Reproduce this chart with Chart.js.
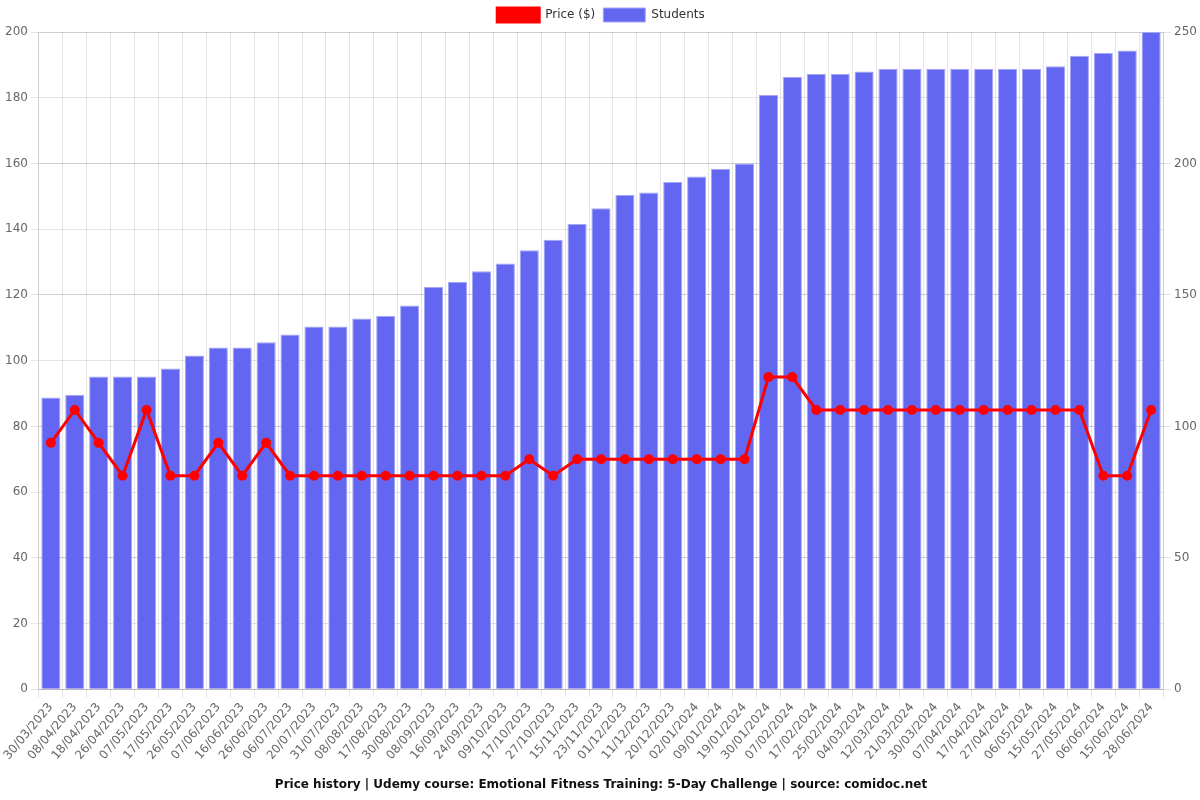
<!DOCTYPE html>
<html>
<head>
<meta charset="utf-8">
<script src="https://cdn.jsdelivr.net/npm/chart.js@4/dist/chart.umd.min.js"></script>
<style>
  html, body { margin: 0; padding: 0; background: #fff; }
  #wrap { width: 1200px; height: 800px; }
</style>
</head>
<body>
<div id="wrap"><canvas id="chart"></canvas></div>
<script>
'use strict';

const dates = [
  '30/03/2023','08/04/2023','18/04/2023','26/04/2023','07/05/2023','17/05/2023','26/05/2023',
  '07/06/2023','16/06/2023','26/06/2023','06/07/2023','20/07/2023','31/07/2023','08/08/2023',
  '17/08/2023','30/08/2023','08/09/2023','16/09/2023','24/09/2023','09/10/2023','17/10/2023',
  '27/10/2023','15/11/2023','23/11/2023','01/12/2023','11/12/2023','20/12/2023','02/01/2024',
  '09/01/2024','19/01/2024','30/01/2024','07/02/2024','17/02/2024','25/02/2024','04/03/2024',
  '12/03/2024','21/03/2024','30/03/2024','07/04/2024','17/04/2024','27/04/2024','06/05/2024',
  '15/05/2024','27/05/2024','06/06/2024','15/06/2024','28/06/2024'
];

const price = [
  75, 85, 75, 65, 85, 65, 65, 75, 65, 75,
  65, 65, 65, 65, 65, 65, 65, 65, 65, 65,
  70, 65, 70, 70, 70, 70, 70, 70, 70, 70,
  95, 95, 85, 85, 85, 85, 85, 85, 85, 85,
  85, 85, 85, 85, 65, 65, 85
];

const students = [
  111, 112, 119, 119, 119, 122, 127, 130, 130, 132,
  135, 138, 138, 141, 142, 146, 153, 155, 159, 162,
  167, 171, 177, 183, 188, 189, 193, 195, 198, 200,
  226, 233, 234, 234, 235, 236, 236, 236, 236, 236,
  236, 236, 237, 241, 242, 243, 250
];

const titleText = 'Price history | Udemy course: Emotional Fitness Training: 5-Day Challenge | source: comidoc.net';

Chart.defaults.font.family = '"DejaVu Sans", sans-serif';
Chart.defaults.font.size = 12;
Chart.defaults.color = '#666';

const tick = { color: '#666', font: { size: 12 } };
const grid = 'rgba(0,0,0,0.1)';

new Chart(document.getElementById('chart'), {
  type: 'bar',
  data: {
    labels: dates,
    datasets: [
      {
        type: 'line',
        label: 'Price ($)',
        data: price,
        yAxisID: 'y',
        borderColor: '#ff0000',
        backgroundColor: '#ff0000',
        borderWidth: 3,
        pointRadius: 3.5,
        pointBackgroundColor: '#ff0000',
        pointBorderColor: '#ff0000',
        tension: 0,
        fill: false,
      },
      {
        label: 'Students',
        data: students,
        yAxisID: 'y2',
        backgroundColor: '#6366f1',
        borderColor: '#a5a7f7',
        borderWidth: 1,
        barPercentage: 0.8,
        categoryPercentage: 1.0,
      },
    ],
  },
  options: {
    responsive: true,
    maintainAspectRatio: false,
    animation: false,
    layout: { padding: { left: 2, right: 0, top: 0, bottom: 4 } },
    plugins: {
      legend: {
        position: 'top',
        labels: { boxWidth: 42, boxHeight: 14, color: '#333', font: { size: 12 }, padding: 8 },
      },
      title: {
        display: true,
        position: 'bottom',
        text: titleText,
        color: '#111',
        font: { size: 12, weight: 'bold' },
        padding: { top: 12, bottom: 4 },
      },
      tooltip: { enabled: false },
    },
    scales: {
      x: {
        ticks: { ...tick, autoSkip: false, minRotation: 50, maxRotation: 50 },
        grid: { color: grid, drawTicks: true },
      },
      y: {
        position: 'left',
        min: 0,
        max: 200,
        ticks: { ...tick, stepSize: 20 },
        grid: { color: grid },
      },
      y2: {
        position: 'right',
        min: 0,
        max: 250,
        ticks: { ...tick, stepSize: 50 },
        grid: { color: grid },
      },
    },
  },
});
</script>
</body>
</html>
